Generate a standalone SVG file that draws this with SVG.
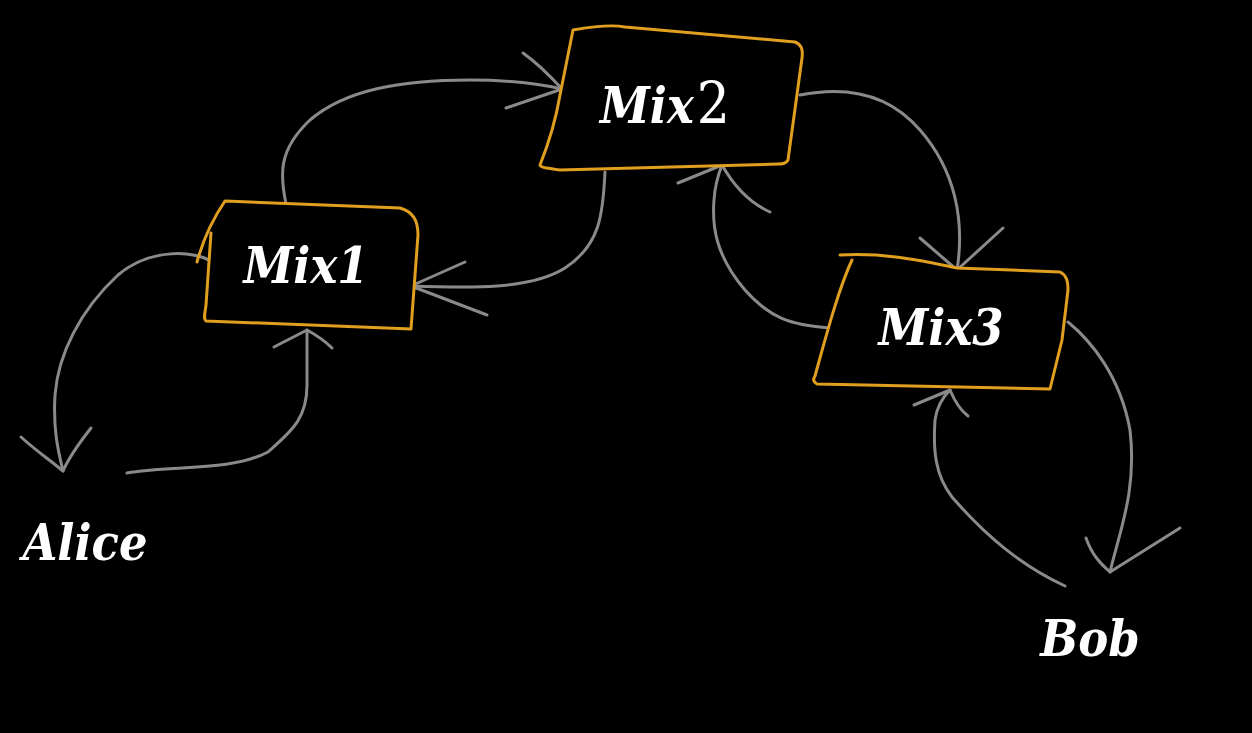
<svg xmlns="http://www.w3.org/2000/svg" width="1252" height="733" viewBox="0 0 1252 733">
<style>
.box{fill:#000;stroke:#e09f1f;stroke-width:3;stroke-linejoin:round;stroke-linecap:round}
.c{fill:none;stroke:#8a8a8a;stroke-width:3;stroke-linecap:round;stroke-linejoin:round}
.t{font-family:"DejaVu Serif Condensed","DejaVu Serif",serif;font-stretch:condensed;font-weight:bold;font-style:italic;font-size:50px;fill:#fff;text-anchor:middle}
.u{font-weight:normal;font-style:normal;font-size:58px}
</style>
<rect width="1252" height="733" fill="#000"/>
<g id="connectors">
<path class="c" d="M286,204 C280,175 278,150 310,120 C345,90 400,80 470,80 C510,80 540,84 562,89"/>
<path class="c" d="M523,53 C540,65 552,78 562,89 L506,108"/>
<path class="c" d="M605,172 C603,215 600,245 565,268 C530,290 470,288 411,286"/>
<path class="c" d="M465,262 L411,286 L487,315"/>
<path class="c" d="M212,262 C195,250 150,248 118,275 C80,310 58,355 55,395 C53,430 58,450 63,471"/>
<path class="c" d="M21,437 C35,450 50,460 63,471 C70,455 80,442 91,428"/>
<path class="c" d="M127,473 C170,465 230,472 268,452 C290,432 307,420 307,385 L307,330"/>
<path class="c" d="M274,347 L307,330 C318,336 326,342 332,348"/>
<path class="c" d="M800,95 C850,85 890,95 920,130 C955,170 965,220 957,270"/>
<path class="c" d="M920,238 L957,270 L1003,228"/>
<path class="c" d="M830,328 C790,325 770,318 745,290 C715,255 712,225 714,200 C715,185 718,175 722,165"/>
<path class="c" d="M678,183 L722,165 C735,188 750,203 770,212"/>
<path class="c" d="M1068,322 C1090,340 1120,375 1130,430 C1137,490 1120,530 1110,572"/>
<path class="c" d="M1086,538 C1092,555 1100,563 1110,572 L1180,528"/>
<path class="c" d="M1065,586 C1020,565 985,535 952,497 C935,475 933,450 935,420 C937,405 945,395 950,390"/>
<path class="c" d="M914,405 L950,390 C955,402 960,410 968,416"/>
</g>
<g id="mix1">
<path class="box" d="M197,262 C203,240 212,220 225,201 L400,208 C413,212 418,220 418,235 L411,329 L206,321 C203,318 205,314 206,305 L211,233"/>
<text class="t" x="306" y="283">Mix1</text>
</g>
<g id="mix2">
<path class="box" d="M573,30 C590,27 610,24 625,27 L795,42 C802,45 803,50 802,58 L788,160 C786,164 782,164 778,164 L560,170 C545,168 540,167 540,165 C548,145 555,125 560,95 Z"/>
<text class="t" x="665" y="123">Mix<tspan class="u" dx="3">2</tspan></text>
</g>
<g id="mix3">
<path class="box" d="M840,255 C880,253 910,258 957,268 L1060,272 C1066,275 1068,280 1068,290 L1062,340 L1050,389 L817,384 C813,382 813,379 815,376 C825,340 838,290 852,260"/>
<text class="t" x="941" y="345">Mix3</text>
</g>
<g id="alice">
<text class="t" x="85" y="560">Alice</text>
</g>
<g id="bob">
<text class="t" x="1090" y="656">Bob</text>
</g>
</svg>
